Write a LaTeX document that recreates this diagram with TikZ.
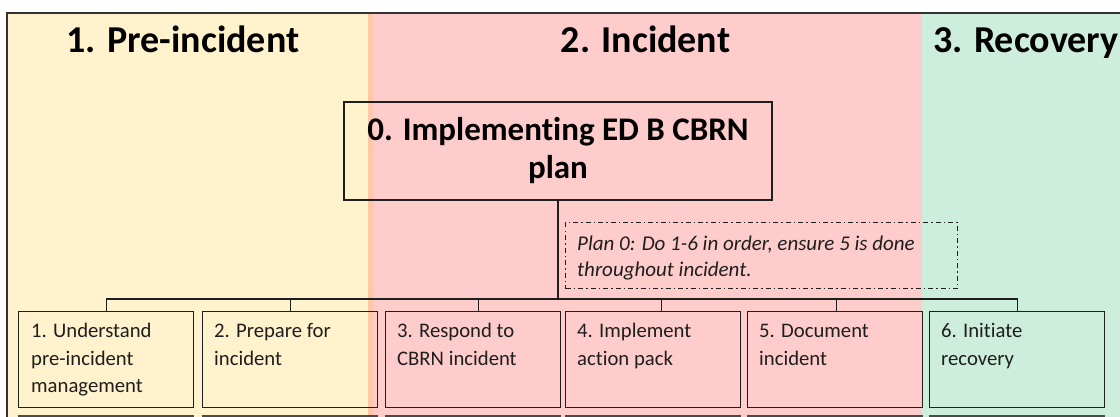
\documentclass[tikz,border=0pt]{standalone}
\usepackage{fontspec}
\setmainfont{Carlito}[Ligatures={NoCommon}]
\definecolor{preY}{HTML}{FFF2CC}
\definecolor{incR}{HTML}{FFCCCC}
\definecolor{recG}{HTML}{CDEEDC}
\definecolor{bandO}{HTML}{FDC8A8}
\definecolor{ink}{HTML}{1E1E1E}
\definecolor{frameC}{HTML}{333333}
\definecolor{baseC}{HTML}{4A4A4A}
\tikzset{
  phasetitle/.style={font=\fontsize{38}{44}\selectfont\bfseries, inner sep=0pt, text=black},
  mainbox/.style={draw=ink, line width=1.3pt, minimum width=428pt, minimum height=98pt,
    align=center, inner sep=0pt, font=\fontsize{33}{38}\selectfont\bfseries},
  taskbox/.style={draw=ink, line width=1.3pt, minimum width=175pt, minimum height=96pt,
    anchor=north west, inner sep=0pt},
  tasktext/.style={anchor=north west, inner sep=0pt, align=left,
    font=\fontsize{20.7}{27.7}\selectfont, text=ink},
  plantext/.style={anchor=north west, inner sep=0pt, align=left,
    font=\fontsize{21}{26.5}\selectfont\itshape, text=ink},
  planbox/.style={draw=ink, line width=1pt, dash pattern=on 5pt off 3pt on 1.5pt off 3pt,
    minimum width=392pt, minimum height=66pt, anchor=north west, inner sep=0pt},
  conn/.style={draw=ink, line width=1.3pt},
  baseline/.style={draw=baseC, line width=3pt},
}
\begin{document}
\begin{tikzpicture}[x=1pt,y=-1pt]
\useasboundingbox (0,0) rectangle (1120,417);
% phase backgrounds
\fill[preY] (7,13) rectangle (373,417);
\fill[incR] (368,13) rectangle (922,417);
\fill[bandO] (368,13) rectangle (373,417);
\fill[recG] (922,13) rectangle (1120,417);
% frame
\draw[frameC, line width=1.8pt] (7,417) -- (7,13) -- (1121,13);
% phase titles
\node[phasetitle, anchor=base] (t1) at (183,53) {1. Pre-incident};
\node[phasetitle, anchor=base] (t2) at (645.5,53) {2. Incident};
\node[phasetitle, anchor=base west] (t3) at (933,53) {3. Recovery};
% main task
\node[mainbox] (main) at (558,151) {0. Implementing ED B CBRN\\plan};
% plan note
\node[planbox] (plan) at (565,222) {};
\node[plantext] (plantx) at (577,231.5) {\strut Plan 0: Do 1-6 in order, ensure 5 is done\\throughout incident.};
% sub tasks
\node[taskbox] (b1) at (18,311) {};
\node[taskbox] (b2) at (202,311) {};
\node[taskbox] (b3) at (385,311) {};
\node[taskbox] (b4) at (565,311) {};
\node[taskbox] (b5) at (747,311) {};
\node[taskbox] (b6) at (929,311) {};
\node[tasktext] (x1) at (31,318) {\strut 1. Understand\\pre-incident\\management};
\node[tasktext] (x2) at (214,318) {\strut 2. Prepare for\\incident};
\node[tasktext] (x3) at (397,318) {\strut 3. Respond to\\CBRN incident};
\node[tasktext] (x4) at (577,318) {\strut 4. Implement\\action pack};
\node[tasktext] (x5) at (759,318) {\strut 5. Document\\incident};
\node[tasktext] (x6) at (941,318) {\strut 6. Initiate\\recovery};
% tree connectors
\coordinate (bus) at (558,299);
\draw[conn] (main.south) -- (bus);
\draw[conn] (b1.north) |- (bus);
\draw[conn] (b2.north) |- (bus);
\draw[conn] ([xshift=5pt]b3.north) |- (bus);
\draw[conn] ([xshift=8.5pt]b4.north) |- (bus);
\draw[conn] ([xshift=1.5pt]b5.north) |- (bus);
\draw[conn] (b6.north) |- (bus);
% lower edges
\foreach \b in {b1,b2,b3,b4,b5,b6}{
  \draw[baseline] ([yshift=-8pt]\b.south west) -- ([yshift=-8pt]\b.south east);
}
\end{tikzpicture}
\end{document}
